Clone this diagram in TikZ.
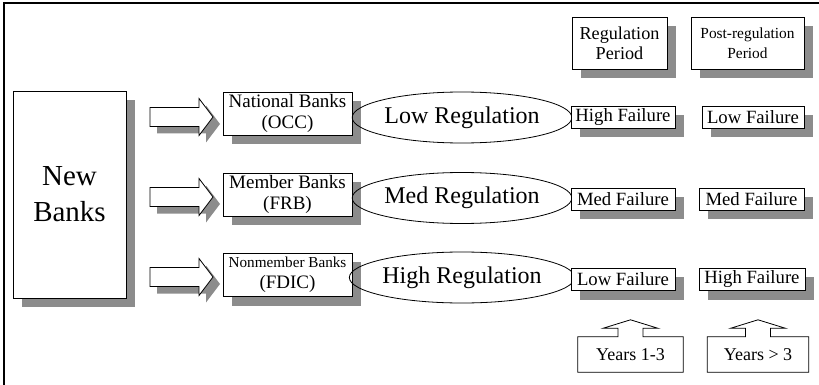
\documentclass[tikz,border=0pt]{standalone}
\usepackage{fontspec}
\setmainfont{Liberation Serif}
\usetikzlibrary{shapes.geometric,calc,backgrounds}
\definecolor{shadowgray}{RGB}{140,140,140}
\newcommand\dropsh[1]{%
  \begin{scope}[on background layer]
    \fill[shadowgray] ([shift={(9pt,-9pt)}]#1.south west) rectangle ([shift={(9pt,-9pt)}]#1.north east);
  \end{scope}}
\begin{document}
\begin{tikzpicture}[x=1pt,y=-1pt,
  shbox/.style={draw, fill=white, line width=0.8pt, inner sep=0pt, align=center},
  bankbox/.style={shbox, minimum width=129pt, minimum height=43pt, font=\fontsize{19}{21}\selectfont},
  failbox/.style={shbox, minimum height=22pt, font=\fontsize{18.7}{20}\selectfont},
  regell/.style={draw, ellipse, line width=0.8pt, inner sep=0pt, minimum width=190pt, minimum height=51pt, font=\fontsize{24}{26}\selectfont},
  yearbox/.style={inner sep=0pt, minimum height=35pt, font=\fontsize{18}{20}\selectfont},
  outline/.style={draw, line width=0.8pt, fill=white},
  blockarrow/.pic={
    \fill[shadowgray] (7,-2.5) -- (56,-2.5) -- (56,-11.5) -- (70,7) -- (56,25.5) -- (56,16.5) -- (7,16.5) -- cycle;
    \filldraw[fill=white, line width=0.8pt] (0,-9.5) -- (49,-9.5) -- (49,-18.5) -- (63,0) -- (49,18.5) -- (49,9.5) -- (0,9.5) -- cycle;
  }
]
\useasboundingbox (0,0) rectangle (819,385);
% frame
\draw[line width=1.6pt] (819,3) -- (4,3) -- (4,385);

% block arrows
\pic (arrA) at (150,117) {blockarrow};
\pic (arrB) at (150,197) {blockarrow};
\pic (arrC) at (150,277) {blockarrow};

% New Banks
\node[shbox, minimum width=113pt, minimum height=207pt, font=\fontsize{29}{36}\selectfont] (newbanks) at (69.5,194.5) {New\\Banks};

% bank boxes
\node[bankbox] (nat) at (287.5,113.5) {National Banks\\(OCC)};
\node[bankbox] (mem) at (287.5,194.5) {Member Banks\\(FRB)};
\node[bankbox] (non) at (287.5,275) {{\fontsize{15.2}{17}\selectfont Nonmember Banks}\\(FDIC)};

% regulation ellipses
\node[regell] (lowreg) at (462,117.5) {Low Regulation};
\node[regell] (medreg) at (462,198) {Med Regulation};
\node[regell] (highreg) at (462,277.5) {High Regulation};

% period headers
\node[shbox, minimum width=95pt, minimum height=52pt, font=\fontsize{18.2}{20}\selectfont] (regper) at (619.5,43) {Regulation\\Period};
\node[shbox, minimum width=113pt, minimum height=52pt, font=\fontsize{15.4}{20}\selectfont] (postper) at (747.5,43) {Post-regulation\\Period};

% failure boxes
\node[failbox, minimum width=104pt] (f11) at (623,117) {High Failure};
\node[failbox, minimum width=102pt] (f12) at (753,117) {Low Failure};
\node[failbox, minimum width=104pt] (f21) at (623,199) {Med Failure};
\node[failbox, minimum width=105pt] (f22) at (751.5,199) {Med Failure};
\node[failbox, minimum width=104pt] (f31) at (623,279.5) {Low Failure};
\node[failbox, minimum width=106pt] (f32) at (752,279.5) {High Failure};

\foreach \n in {newbanks,nat,mem,non,regper,postper,f11,f12,f21,f22,f31,f32}{\dropsh{\n}}

% years callouts
\node[yearbox, minimum width=105pt] (yr1) at (630.5,354.5) {};
\node[yearbox, minimum width=101pt] (yr2) at (758,354.5) {};
\foreach \y in {yr1,yr2}{
  \draw[outline] (\y.south west) -- (\y.north west) -- ([xshift=-12.5pt]\y.north) -- ++(0,-8.5)
    -- ++(-15,0) -- ([yshift=17pt]\y.north) -- ++(27.5,8.5) -- ++(-15,0) -- ([xshift=12.5pt]\y.north)
    -- (\y.north east) -- (\y.south east) -- cycle;
}
\node[yearbox] (yr1text) at (yr1) {Years 1-3};
\node[yearbox] (yr2text) at (yr2) {Years > 3};
\end{tikzpicture}
\end{document}
